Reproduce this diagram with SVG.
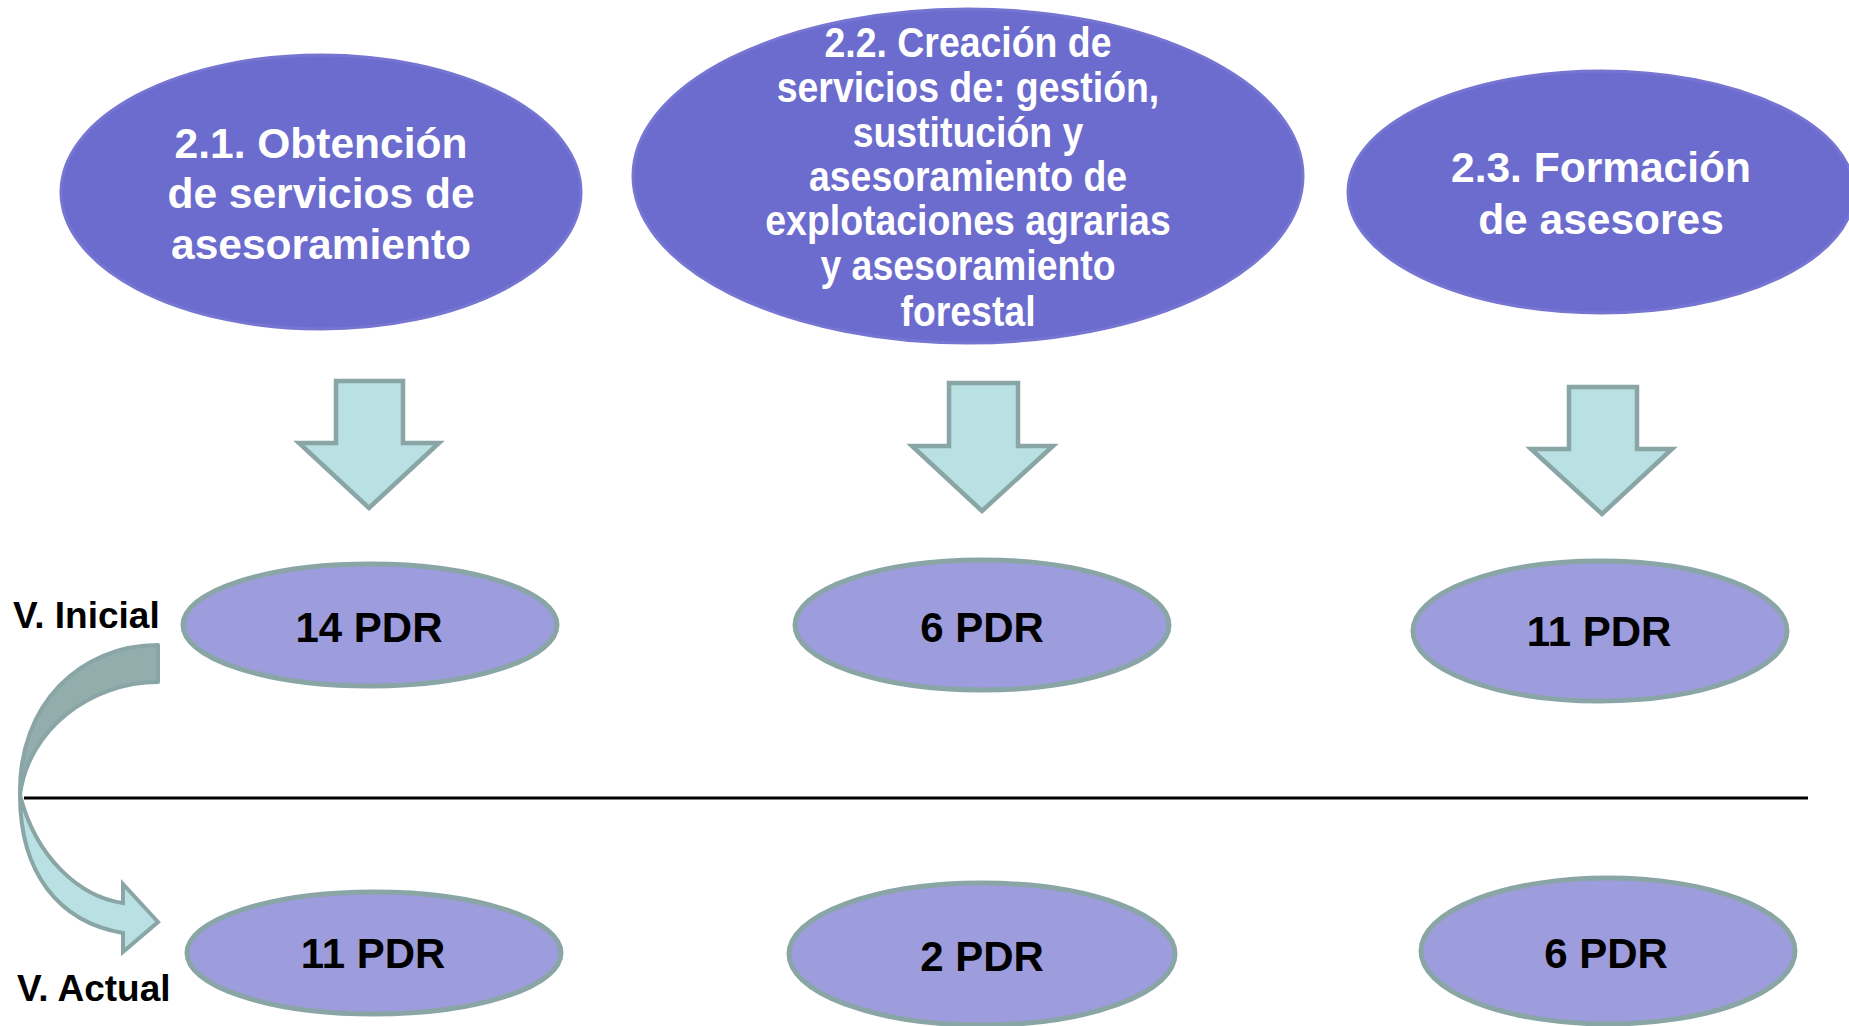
<svg xmlns="http://www.w3.org/2000/svg" width="1849" height="1026" viewBox="0 0 1849 1026">
<style>
.top{fill:#6c6cce;stroke:#7676d2;stroke-width:3}
.pdr{fill:#9d9cdd;stroke:#8aa5a5;stroke-width:5}
.arr{fill:#b9e0e3;stroke:#8aa5a5;stroke-width:4.5;stroke-linejoin:miter}
.tw{font-family:"Liberation Sans",Arial,sans-serif;font-weight:bold;fill:#ffffff;text-anchor:middle}
.tb{font-family:"Liberation Sans",Arial,sans-serif;font-weight:bold;fill:#000000;text-anchor:middle;font-size:42px}
.lbl{font-family:"Liberation Sans",Arial,sans-serif;font-weight:bold;fill:#000000;font-size:37px}
</style>
<rect width="1849" height="1026" fill="#ffffff"/>
<g id="node-2-1">
<ellipse class="top" cx="321" cy="192" rx="260" ry="137"/>
<text class="tw" font-size="42.5"><tspan x="321" y="158">2.1. Obtención</tspan><tspan x="321" y="208">de servicios de</tspan><tspan x="321" y="259">asesoramiento</tspan></text>
</g>
<g id="node-2-2">
<ellipse class="top" cx="968" cy="176" rx="335" ry="167"/>
<g transform="translate(968,0) scale(0.87,1)">
<text class="tw" font-size="43"><tspan x="0" y="57">2.2. Creación de</tspan><tspan x="0" y="102">servicios de: gestión,</tspan><tspan x="0" y="147">sustitución y</tspan><tspan x="0" y="191">asesoramiento de</tspan><tspan x="0" y="235">explotaciones agrarias</tspan><tspan x="0" y="280">y asesoramiento</tspan><tspan x="0" y="326">forestal</tspan></text>
</g>
</g>
<g id="node-2-3">
<ellipse class="top" cx="1601" cy="192" rx="253" ry="121"/>
<text class="tw" font-size="42.5"><tspan x="1601" y="182">2.3. Formación</tspan><tspan x="1601" y="234">de asesores</tspan></text>
</g>
<g id="connectors">
<path class="arr" d="M336,381 H403 V443 H439 L369,508 L299,443 H336 Z"/>
<path class="arr" d="M949,383 H1018 V446 H1053 L982,511 L912,446 H949 Z"/>
<path class="arr" d="M1569,387 H1637 V449 H1672 L1602,514 L1531,449 H1569 Z"/>
<line x1="24" y1="798" x2="1808" y2="798" stroke="#000000" stroke-width="3"/>
<g id="curved-arrow">
<path d="M158,645 L158,682 C90,682 28,730 20,795 C18,705 80,645 158,645 Z" fill="#93adad" stroke="#8aa5a5" stroke-width="4" stroke-linejoin="round"/>
<path d="M20,795 C20,872 58,922 123,933 L123,952 L158,922 L123,884 L123,903 C80,897 36,858 20,795 Z" fill="#b9e0e3" stroke="#8aa5a5" stroke-width="4" stroke-linejoin="miter"/>
</g>
</g>
<g id="node-v14">
<ellipse class="pdr" cx="370" cy="625" rx="187" ry="61"/>
<text class="tb" x="369" y="642">14 PDR</text>
</g>
<g id="node-v6">
<ellipse class="pdr" cx="982" cy="625" rx="187" ry="65"/>
<text class="tb" x="982" y="642">6 PDR</text>
</g>
<g id="node-v11">
<ellipse class="pdr" cx="1600" cy="631" rx="187" ry="70"/>
<text class="tb" x="1599" y="646">11 PDR</text>
</g>
<g id="node-a11">
<ellipse class="pdr" cx="374" cy="953" rx="187" ry="61"/>
<text class="tb" x="373" y="968">11 PDR</text>
</g>
<g id="node-a2">
<ellipse class="pdr" cx="982" cy="954" rx="193" ry="71"/>
<text class="tb" x="982" y="971">2 PDR</text>
</g>
<g id="node-a6">
<ellipse class="pdr" cx="1608" cy="951" rx="187" ry="73"/>
<text class="tb" x="1606" y="968">6 PDR</text>
</g>
<g id="labels">
<text class="lbl" x="13" y="628">V. Inicial</text>
<text class="lbl" x="17" y="1001">V. Actual</text>
</g>
</svg>
